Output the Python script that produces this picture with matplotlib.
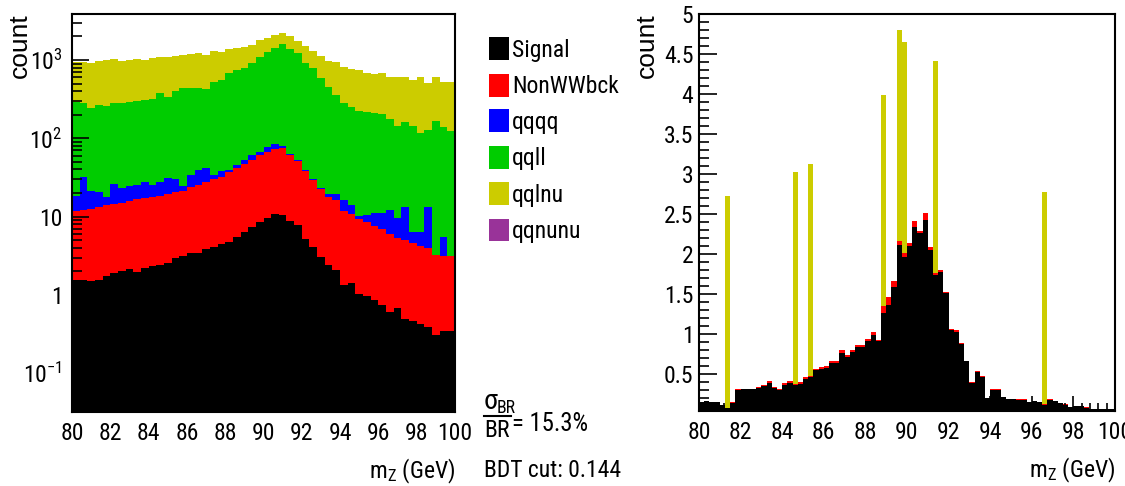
import numpy as np
import matplotlib
matplotlib.use("Agg")
import matplotlib.pyplot as plt
from matplotlib import font_manager
from matplotlib.ticker import (MultipleLocator, FuncFormatter, LogLocator,
                               NullFormatter, FixedLocator)
from matplotlib.patches import Rectangle
from matplotlib.lines import Line2D

# ---------------------------------------------------------------- data
# Left: BDT-selected events, 50 bins of 0.4 GeV in m_Z (stacked, log scale)
mz_range = (80.0, 100.0)
n_bins_left = 50
n_bins_right = 80

signal_left = [1.55, 1.55, 1.51, 1.55, 1.75, 1.89, 2.01, 2.15, 1.97, 2.21,
               2.35, 2.39, 2.59, 2.94, 3.15, 3.47, 3.41, 3.83, 4.14, 4.48,
               4.80, 5.45, 6.31, 7.46, 8.55, 9.53, 10.8, 10.6, 8.89, 7.76,
               5.14, 4.14, 3.03, 2.42, 2.09, 1.34, 1.41, 1.03, 0.97, 0.86,
               0.745, 0.60, 0.675, 0.50, 0.47, 0.43, 0.39, 0.31, 0.35, 0.35]
nonww_left = [10.4, 10.7, 10.9, 11.7, 12.4, 12.6, 13.1, 13.5, 14.7, 15.1,
              15.7, 16.0, 16.7, 17.4, 18.2, 20.2, 22.0, 23.7, 25.9, 27.9,
              32.1, 36.0, 40.8, 45.5, 52.9, 58.1, 62.4, 64.2, 52.5, 44.1,
              33.6, 25.3, 19.8, 15.6, 14.2, 10.5, 9.4, 8.3, 7.6, 6.75,
              6.2, 5.4, 4.7, 4.5, 4.1, 3.8, 3.6, 2.9, 2.8, 2.8]
qqqq_left = [6.5, 19.9, 9.1, 7.1, 3.9, 11.4, 8.0, 9.1, 8.7, 10.7,
             7.2, 9.6, 11.6, 9.7, 3.4, 10.4, 14.1, 14.0, 4.1, 6.3,
             2.6, 4.2, 5.9, 8.4, 6.2, 10.7, 11.6, 5.2, 1.8, 1.1,
             0.8, 0.9, 0.3, 1.3, 3.0, 4.5, 3.3, 0.85, 1.95, 3.6,
             4.2, 6.2, 4.3, 8.3, 1.8, 2.2, 9.3, 0.0, 2.4, 0.0]
qqll_left = [276, 254, 220, 247, 241, 255, 263, 269, 275, 281,
             291, 349, 304, 377, 411, 410, 404, 382, 496, 518,
             650, 702, 732, 849, 1037, 1202, 1330, 1527, 1311, 1191,
             886, 755, 563, 438, 339, 270, 236, 216, 208, 202,
             194, 163, 134, 146, 138, 110, 115, 165, 134, 122]
qqlnu_left = [660, 651, 668, 715, 744, 743, 696, 709, 724, 694,
              738, 709, 770, 721, 726, 742, 778, 738, 788, 723,
              684, 667, 672, 650, 718, 620, 678, 591, 657, 526,
              588, 533, 542, 525, 596, 523, 513, 522, 459, 451,
              473, 433, 464, 449, 413, 492, 382, 440, 386, 400]
qqnunu_left = [0, 0, 0, 0, 0, 0, 0, 0, 0, 0,
               0, 0, 0, 0, 0, 0, 0, 0, 0, 0,
               0, 0, 0, 0, 0, 0, 0, 0, 0, 0,
               0, 0, 0, 0, 0, 0, 0, 0, 0, 0,
               0, 0, 0, 0, 0, 0, 0, 0, 0, 0]

# Right: 80 bins of 0.25 GeV in m_Z (stacked, linear scale)
signal_right = [0.15, 0.16, 0.15, 0.15, 0.11, 0.08, 0.14, 0.30, 0.31, 0.31,
                0.31, 0.33, 0.35, 0.39, 0.33, 0.30, 0.37, 0.39, 0.37, 0.38,
                0.44, 0.47, 0.55, 0.57, 0.58, 0.64, 0.64, 0.77, 0.72, 0.78,
                0.84, 0.84, 0.92, 0.99, 0.92, 1.27, 1.37, 1.59, 2.11, 1.97,
                2.10, 2.34, 2.26, 2.43, 2.05, 1.74, 1.78, 1.52, 1.05, 1.03,
                0.88, 0.66, 0.39, 0.53, 0.47, 0.20, 0.30, 0.30, 0.21, 0.19,
                0.19, 0.18, 0.18, 0.15, 0.16, 0.15, 0.12, 0.18, 0.16, 0.14,
                0.12, 0.09, 0.10, 0.10, 0.08, 0.065, 0.06, 0.06, 0.06, 0.06]
nonww_right = [0.005, 0.005, 0.005, 0.005, 0.005, 0.0, 0.01, 0.02, 0.01, 0.01,
               0.01, 0.01, 0.02, 0.02, 0.01, 0.01, 0.02, 0.02, 0.01, 0.02,
               0.02, 0.01, 0.02, 0.02, 0.02, 0.02, 0.02, 0.03, 0.02, 0.02,
               0.02, 0.02, 0.02, 0.04, 0.01, 0.08, 0.09, 0.07, 0.05, 0.04,
               0.04, 0.08, 0.03, 0.08, 0.04, 0.03, 0.02, 0.01, 0.02, 0.02,
               0.01, 0.01, 0.01, 0.01, 0.01, 0.005, 0.01, 0.01, 0.005, 0.005,
               0.005, 0.005, 0.005, 0.005, 0.005, 0.005, 0.01, 0.005, 0.005, 0.005,
               0.005, 0.005, 0.005, 0.005, 0.005, 0.005, 0.0, 0.0, 0.0, 0.0]
qqlnu_right = [0, 0, 0, 0, 0, 2.64, 0, 0, 0, 0,
               0, 0, 0, 0, 0, 0, 0, 0, 2.64, 0,
               0, 2.64, 0, 0, 0, 0, 0, 0, 0, 0,
               0, 0, 0, 0, 0, 2.64, 0, 0, 2.64, 2.64,
               0, 0, 0, 0, 0, 2.64, 0, 0, 0, 0,
               0, 0, 0, 0, 0, 0, 0, 0, 0, 0,
               0, 0, 0, 0, 0, 0, 2.64, 0, 0, 0,
               0, 0, 0, 0, 0, 0, 0, 0, 0, 0]

process_names = ["Signal", "NonWWbck", "qqqq", "qqll", "qqlnu", "qqnunu"]
process_colors = ["#000000", "#ff0000", "#0000ff", "#00cc00", "#cccc00", "#993399"]

x_ticks = [80, 82, 84, 86, 88, 90, 92, 94, 96, 98, 100]
sigma_text = "15.3%"
bdt_cut = "0.144"

# ---------------------------------------------------------------- fonts
W, H = 1125, 486
ttf = font_manager.fontManager.ttflist
names = {f.name for f in ttf}
family, stretch, FS = "Liberation Sans", "normal", 16
for cand in ["Liberation Sans Narrow", "Arial Narrow", "Nimbus Sans Narrow",
             "Roboto Condensed", "Noto Sans Condensed", "Open Sans Condensed"]:
    if cand in names:
        family, FS = cand, 17
        break
else:
    for base in ["Noto Sans", "Open Sans", "Roboto"]:
        if any(f.name == base and f.stretch in ("condensed", "semi-condensed")
               and f.style == "normal" for f in ttf):
            family, stretch, FS = base, "condensed", 17
            break

plt.rcParams["font.family"] = [family, "DejaVu Sans"]
plt.rcParams["font.stretch"] = stretch
plt.rcParams["mathtext.fontset"] = "custom"
spec = family if stretch == "normal" else family + ":stretch=" + stretch
plt.rcParams["mathtext.rm"] = spec
plt.rcParams["mathtext.it"] = spec + ":italic"
plt.rcParams["mathtext.bf"] = spec + ":bold"

fig = plt.figure(figsize=(W / 100, H / 100), dpi=100)


def fx(px):
    return px / W


def fy(py):
    return 1 - py / H


def draw_stack(ax, edges, layers, floor):
    tops = np.cumsum([np.asarray(v, float) for v, _ in layers], axis=0)
    for (vals, color), top in reversed(list(zip(layers, tops))):
        ax.stairs(top, edges, baseline=floor, fill=True, facecolor=color,
                  edgecolor="none", linewidth=0)


def style_frame(ax):
    for s in ax.spines.values():
        s.set_linewidth(1.5)
        s.set_color("black")
    ax.tick_params(which="both", direction="in", top=False, right=False,
                   labelsize=FS, width=1.2, color="black")
    ax.set_xlim(*mz_range)
    ax.xaxis.set_major_locator(FixedLocator(x_ticks))
    ax.xaxis.set_minor_locator(MultipleLocator(0.4))
    ax.xaxis.set_major_formatter(FuncFormatter(lambda v, p: "%d" % round(v)))
    ax.tick_params(axis="x", which="major", length=11, pad=7)
    ax.tick_params(axis="x", which="minor", length=6)


# ---------------------------------------------------------------- left panel
axL = fig.add_axes([fx(72), fy(412), fx(455 - 72), (412 - 14) / H])
edges_left = np.linspace(mz_range[0], mz_range[1], n_bins_left + 1)
left_layers = [signal_left, nonww_left, qqqq_left, qqll_left, qqlnu_left, qqnunu_left]
draw_stack(axL, edges_left, list(zip(left_layers, process_colors)), 1e-3)
axL.set_yscale("log")
axL.set_ylim(0.032, 3870)
style_frame(axL)
axL.yaxis.set_major_locator(FixedLocator([0.1, 1, 10, 100, 1000]))
axL.yaxis.set_minor_locator(LogLocator(base=10, subs=np.arange(2, 10), numticks=20))
axL.yaxis.set_minor_formatter(NullFormatter())


def log_label(v, pos):
    e = int(round(np.log10(v)))
    if e == 0:
        return "1"
    if e == 1:
        return "10"
    return r"$\mathregular{10^{%d}}$" % e


axL.yaxis.set_major_formatter(FuncFormatter(log_label))
axL.tick_params(axis="y", which="major", length=12, pad=7)
axL.tick_params(axis="y", which="minor", length=7)
axL.text(1.0, -0.15, r"$\mathregular{m_{Z}}$ (GeV)", transform=axL.transAxes,
         ha="right", va="center", fontsize=FS)
fig.text(fx(20), fy(13), "count", rotation=90, ha="center", va="top",
         fontsize=19, family=["Liberation Sans", "DejaVu Sans"], stretch="normal")

# ---------------------------------------------------------------- right panel
axR = fig.add_axes([fx(699), fy(411), fx(1115 - 699), (411 - 14) / H])
edges_right = np.linspace(mz_range[0], mz_range[1], n_bins_right + 1)
right_layers = [(signal_right, process_colors[0]),
                (nonww_right, process_colors[1]),
                (qqlnu_right, process_colors[4])]
draw_stack(axR, edges_right, right_layers, 0.0)
axR.set_ylim(0.04, 5.0)
style_frame(axR)
axR.yaxis.set_major_locator(MultipleLocator(0.5))
axR.yaxis.set_minor_locator(MultipleLocator(0.1))
axR.yaxis.set_major_formatter(FuncFormatter(lambda v, p: "%g" % round(v, 2)))
axR.tick_params(axis="y", which="major", length=13, pad=4)
axR.tick_params(axis="y", which="minor", length=7)
axR.text(1.0, -0.15, r"$\mathregular{m_{Z}}$ (GeV)", transform=axR.transAxes,
         ha="right", va="center", fontsize=FS)
fig.text(fx(647), fy(13), "count", rotation=90, ha="center", va="top",
         fontsize=19, family=["Liberation Sans", "DejaVu Sans"], stretch="normal")

# ---------------------------------------------------------------- legend
legend_rows = [49, 85, 121, 157, 194, 230]
for name, color, yc in zip(process_names, process_colors, legend_rows):
    fig.patches.append(Rectangle((fx(489), fy(yc + 11.5)), fx(20), 23 / H,
                                 transform=fig.transFigure, facecolor=color,
                                 edgecolor="none"))
    fig.text(fx(512), fy(yc + 8), name, ha="left", va="baseline", fontsize=FS)

# ---------------------------------------------------------------- annotations
fig.text(fx(484), fy(409), "\u03c3", ha="left", va="baseline", fontsize=FS * 1.2)
fig.text(fx(497), fy(413), "BR", ha="left", va="baseline", fontsize=FS * 0.75)
fig.lines.append(Line2D([fx(484), fx(511)], [fy(416), fy(416)],
                        transform=fig.transFigure, color="black", linewidth=1.5))
fig.text(fx(484), fy(437), "BR", ha="left", va="baseline", fontsize=FS)
fig.text(fx(512), fy(431), "= " + sigma_text, ha="left", va="baseline", fontsize=FS * 1.05)
fig.text(fx(484), fy(477), "BDT cut: " + bdt_cut, ha="left", va="baseline", fontsize=FS)

fig.savefig("out.png", dpi=100)
